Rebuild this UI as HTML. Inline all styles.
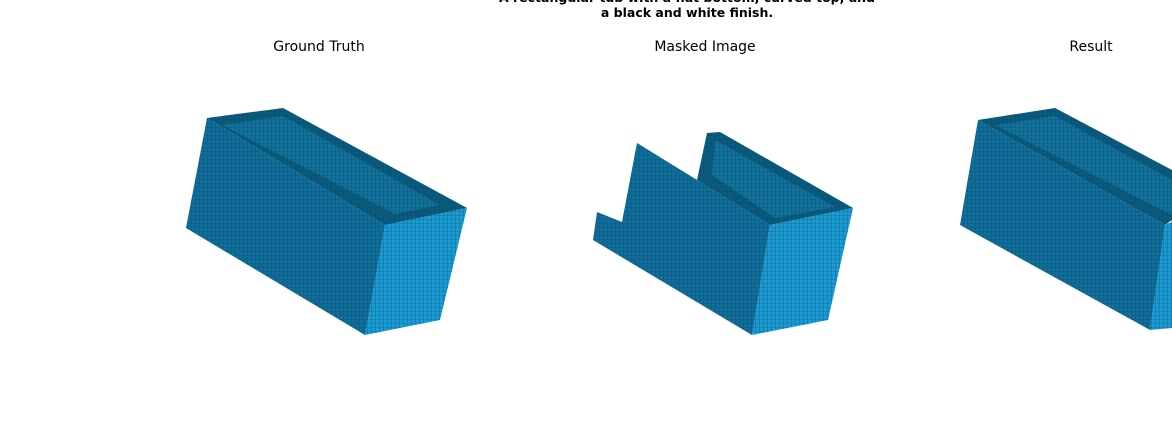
<!DOCTYPE html>
<html><head><meta charset="utf-8"><style>
html,body{margin:0;padding:0;background:#fff;}
svg{display:block;font-family:"DejaVu Sans","Liberation Sans",sans-serif;}
</style></head><body>
<svg width="1172" height="434" viewBox="0 0 1172 434">
<defs>
<pattern id="vox" width="4" height="4" patternUnits="userSpaceOnUse">
<rect width="4" height="4" fill="none"/><path d="M0 3.5H4M3.5 0V4" stroke="#054a66" stroke-width="0.6" opacity="0.5"/>
</pattern>
</defs>
<text x="687" y="2" text-anchor="middle" font-size="12.5" font-weight="bold">A rectangular tub with a flat bottom, curved top, and</text>
<text x="687" y="17" text-anchor="middle" font-size="12.5" font-weight="bold">a black and white finish.</text>
<text x="319" y="51" text-anchor="middle" font-size="14">Ground Truth</text>
<text x="705" y="51" text-anchor="middle" font-size="14">Masked Image</text>
<text x="1091" y="51" text-anchor="middle" font-size="14">Result</text>

<g>
<polygon points="207,118 283,108 467,208 385,225" fill="#0a5a7e"/>
<polygon points="222,125 283,116 440,205 395,214" fill="#1580ad" opacity="0.6"/>
<polygon points="207,118 385,225 365,335 186,228" fill="#0f6e99"/>
<polygon points="385,225 467,208 440,320 365,335" fill="#1b9bd3"/>
<polygon points="207,118 283,108 467,208 385,225 365,335 186,228" fill="url(#vox)"/>
<polygon points="385,225 467,208 440,320 365,335" fill="url(#vox)"/>
</g>
<g>
<polygon points="707,133 720,132 853,208 770,225 697,180" fill="#0a5a7e"/>
<polygon points="715,140 835,207 775,218 712,175" fill="#1580ad" opacity="0.6"/>
<polygon points="637,143 770,225 752,335 593,240 597,212 622,222" fill="#0f6e99"/>
<polygon points="770,225 853,208 828,320 752,335" fill="#1b9bd3"/>
<polygon points="707,133 720,132 853,208 770,225 697,180" fill="url(#vox)"/>
<polygon points="637,143 770,225 752,335 593,240 597,212 622,222" fill="url(#vox)"/>
<polygon points="770,225 853,208 828,320 752,335" fill="url(#vox)"/>
</g>
<g>
<polygon points="978,120 1055,108 1172,170 1172,220 1165,225" fill="#0a5a7e"/>
<polygon points="995,125 1055,116 1172,180 1172,215" fill="#1580ad" opacity="0.6"/>
<polygon points="978,120 1165,225 1150,330 960,225" fill="#0f6e99"/>
<polygon points="1165,225 1172,222 1172,328 1150,330" fill="#1b9bd3"/>
<polygon points="978,120 1055,108 1172,170 1172,328 1150,330 960,225" fill="url(#vox)"/>
</g>
</svg>
</body></html>
